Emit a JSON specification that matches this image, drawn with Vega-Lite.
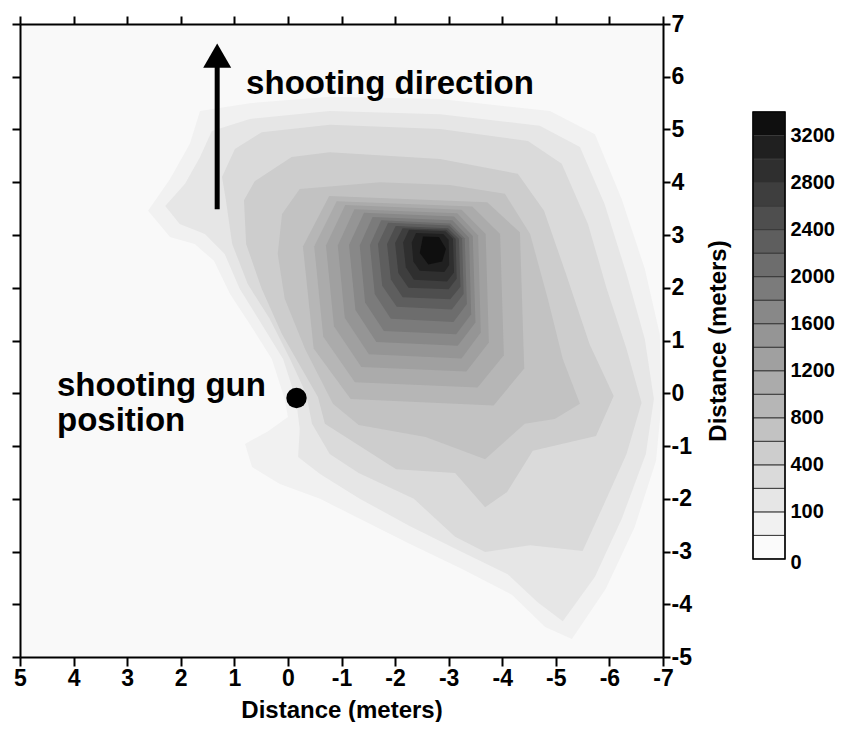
{
  "$schema": "https://vega.github.io/schema/vega-lite/v6.json",
  "background": "white",
  "padding": {"left": 11, "top": 13, "right": 0, "bottom": 0},
  "bounds": "flush",
  "spacing": 90,
  "config": {
    "font": "Liberation Sans",
    "axis": {
      "labelFont": "Liberation Sans",
      "titleFont": "Liberation Sans",
      "labelColor": "black",
      "titleColor": "black",
      "domainColor": "black",
      "tickColor": "black",
      "labelFontWeight": "bold",
      "titleFontWeight": "bold",
      "grid": false
    },
    "text": {"font": "Liberation Sans"}
  },
  "datasets": {
    "contours": [
      {"lo": 50, "i": 1, "x": 2.61, "y": 3.46}, {"lo": 50, "i": 2, "x": 2.20, "y": 4.06}, {"lo": 50, "i": 3, "x": 1.83, "y": 4.73},
      {"lo": 50, "i": 4, "x": 1.64, "y": 5.35}, {"lo": 50, "i": 5, "x": 0.71, "y": 5.50}, {"lo": 50, "i": 6, "x": -0.78, "y": 5.62},
      {"lo": 50, "i": 7, "x": -2.84, "y": 5.58}, {"lo": 50, "i": 8, "x": -4.89, "y": 5.35}, {"lo": 50, "i": 9, "x": -5.73, "y": 4.91},
      {"lo": 50, "i": 10, "x": -6.23, "y": 3.68}, {"lo": 50, "i": 11, "x": -6.66, "y": 2.36}, {"lo": 50, "i": 12, "x": -6.94, "y": 1.12},
      {"lo": 50, "i": 13, "x": -6.98, "y": -0.11}, {"lo": 50, "i": 14, "x": -6.87, "y": -1.28}, {"lo": 50, "i": 15, "x": -6.47, "y": -2.54},
      {"lo": 50, "i": 16, "x": -5.93, "y": -3.71}, {"lo": 50, "i": 17, "x": -5.30, "y": -4.66}, {"lo": 50, "i": 18, "x": -4.80, "y": -4.43},
      {"lo": 50, "i": 19, "x": -4.18, "y": -3.82}, {"lo": 50, "i": 20, "x": -3.25, "y": -3.33}, {"lo": 50, "i": 21, "x": -2.28, "y": -2.86},
      {"lo": 50, "i": 22, "x": -1.34, "y": -2.38}, {"lo": 50, "i": 23, "x": -0.60, "y": -2.00}, {"lo": 50, "i": 24, "x": 0.15, "y": -1.72},
      {"lo": 50, "i": 25, "x": 0.67, "y": -1.40}, {"lo": 50, "i": 26, "x": 0.80, "y": -0.96}, {"lo": 50, "i": 27, "x": 0.37, "y": -0.72},
      {"lo": 50, "i": 28, "x": 0.00, "y": -0.45}, {"lo": 50, "i": 29, "x": 0.06, "y": -0.11}, {"lo": 50, "i": 30, "x": 0.30, "y": 0.65},
      {"lo": 50, "i": 31, "x": 0.71, "y": 1.31}, {"lo": 50, "i": 32, "x": 1.08, "y": 1.88}, {"lo": 50, "i": 33, "x": 1.38, "y": 2.51},
      {"lo": 50, "i": 34, "x": 1.74, "y": 2.83}, {"lo": 50, "i": 35, "x": 2.20, "y": 2.96},

      {"lo": 100, "i": 1, "x": 2.29, "y": 3.55}, {"lo": 100, "i": 2, "x": 1.92, "y": 3.97}, {"lo": 100, "i": 3, "x": 1.64, "y": 4.48},
      {"lo": 100, "i": 4, "x": 1.42, "y": 4.97}, {"lo": 100, "i": 5, "x": 0.71, "y": 5.20}, {"lo": 100, "i": 6, "x": -0.78, "y": 5.35},
      {"lo": 100, "i": 7, "x": -2.84, "y": 5.29}, {"lo": 100, "i": 8, "x": -4.70, "y": 5.07}, {"lo": 100, "i": 9, "x": -5.45, "y": 4.67},
      {"lo": 100, "i": 10, "x": -5.91, "y": 3.59}, {"lo": 100, "i": 11, "x": -6.32, "y": 2.26}, {"lo": 100, "i": 12, "x": -6.66, "y": 1.03},
      {"lo": 100, "i": 13, "x": -6.83, "y": -0.11}, {"lo": 100, "i": 14, "x": -6.68, "y": -1.15}, {"lo": 100, "i": 15, "x": -6.23, "y": -2.38},
      {"lo": 100, "i": 16, "x": -5.73, "y": -3.48}, {"lo": 100, "i": 17, "x": -5.13, "y": -4.32}, {"lo": 100, "i": 18, "x": -4.66, "y": -3.96},
      {"lo": 100, "i": 19, "x": -4.10, "y": -3.43}, {"lo": 100, "i": 20, "x": -3.21, "y": -2.99}, {"lo": 100, "i": 21, "x": -2.28, "y": -2.52},
      {"lo": 100, "i": 22, "x": -1.34, "y": -2.00}, {"lo": 100, "i": 23, "x": -0.60, "y": -1.53}, {"lo": 100, "i": 24, "x": -0.19, "y": -1.21},
      {"lo": 100, "i": 25, "x": -0.22, "y": -0.68}, {"lo": 100, "i": 26, "x": -0.15, "y": -0.11}, {"lo": 100, "i": 27, "x": 0.09, "y": 0.65},
      {"lo": 100, "i": 28, "x": 0.49, "y": 1.31}, {"lo": 100, "i": 29, "x": 0.90, "y": 1.98}, {"lo": 100, "i": 30, "x": 1.18, "y": 2.64},
      {"lo": 100, "i": 31, "x": 1.55, "y": 3.02}, {"lo": 100, "i": 32, "x": 2.02, "y": 3.21},

      {"lo": 200, "i": 1, "x": 1.16, "y": 3.68}, {"lo": 200, "i": 2, "x": 1.23, "y": 4.10}, {"lo": 200, "i": 3, "x": 0.99, "y": 4.63},
      {"lo": 200, "i": 4, "x": 0.49, "y": 4.95}, {"lo": 200, "i": 5, "x": -0.78, "y": 5.09}, {"lo": 200, "i": 6, "x": -2.84, "y": 5.01},
      {"lo": 200, "i": 7, "x": -4.48, "y": 4.78}, {"lo": 200, "i": 8, "x": -5.11, "y": 4.35}, {"lo": 200, "i": 9, "x": -5.60, "y": 3.21},
      {"lo": 200, "i": 10, "x": -5.95, "y": 1.98}, {"lo": 200, "i": 11, "x": -6.32, "y": 0.84}, {"lo": 200, "i": 12, "x": -6.60, "y": -0.18},
      {"lo": 200, "i": 13, "x": -6.32, "y": -1.15}, {"lo": 200, "i": 14, "x": -5.86, "y": -2.19}, {"lo": 200, "i": 15, "x": -5.50, "y": -2.99},
      {"lo": 200, "i": 16, "x": -4.52, "y": -2.88}, {"lo": 200, "i": 17, "x": -3.68, "y": -3.01}, {"lo": 200, "i": 18, "x": -3.12, "y": -2.72},
      {"lo": 200, "i": 19, "x": -2.35, "y": -2.00}, {"lo": 200, "i": 20, "x": -1.32, "y": -1.51}, {"lo": 200, "i": 21, "x": -0.78, "y": -1.15},
      {"lo": 200, "i": 22, "x": -0.45, "y": -0.58}, {"lo": 200, "i": 23, "x": -0.34, "y": -0.01}, {"lo": 200, "i": 24, "x": -0.04, "y": 0.65},
      {"lo": 200, "i": 25, "x": 0.34, "y": 1.41}, {"lo": 200, "i": 26, "x": 0.75, "y": 2.07}, {"lo": 200, "i": 27, "x": 1.04, "y": 2.83},

      {"lo": 400, "i": 1, "x": 0.82, "y": 3.66}, {"lo": 400, "i": 2, "x": 0.62, "y": 4.02}, {"lo": 400, "i": 3, "x": -0.07, "y": 4.48},
      {"lo": 400, "i": 4, "x": -0.78, "y": 4.57}, {"lo": 400, "i": 5, "x": -2.84, "y": 4.44}, {"lo": 400, "i": 6, "x": -4.29, "y": 4.16},
      {"lo": 400, "i": 7, "x": -4.78, "y": 3.46}, {"lo": 400, "i": 8, "x": -5.19, "y": 2.26}, {"lo": 400, "i": 9, "x": -5.63, "y": 0.93},
      {"lo": 400, "i": 10, "x": -6.08, "y": -0.05}, {"lo": 400, "i": 11, "x": -5.75, "y": -0.81}, {"lo": 400, "i": 12, "x": -4.57, "y": -1.09},
      {"lo": 400, "i": 13, "x": -4.09, "y": -1.87}, {"lo": 400, "i": 14, "x": -3.68, "y": -2.16}, {"lo": 400, "i": 15, "x": -3.12, "y": -1.51},
      {"lo": 400, "i": 16, "x": -2.02, "y": -1.44}, {"lo": 400, "i": 17, "x": -0.69, "y": -0.58}, {"lo": 400, "i": 18, "x": -0.56, "y": -0.07},
      {"lo": 400, "i": 19, "x": 0.11, "y": 1.12}, {"lo": 400, "i": 20, "x": 0.49, "y": 1.98}, {"lo": 400, "i": 21, "x": 0.78, "y": 2.83},

      {"lo": 600, "i": 1, "x": 0.11, "y": 3.40}, {"lo": 600, "i": 2, "x": -0.22, "y": 3.87}, {"lo": 600, "i": 3, "x": -1.72, "y": 4.00},
      {"lo": 600, "i": 4, "x": -3.02, "y": 3.95}, {"lo": 600, "i": 5, "x": -4.05, "y": 3.78}, {"lo": 600, "i": 6, "x": -4.52, "y": 3.02},
      {"lo": 600, "i": 7, "x": -4.85, "y": 1.79}, {"lo": 600, "i": 8, "x": -5.13, "y": 0.65}, {"lo": 600, "i": 9, "x": -5.45, "y": -0.20},
      {"lo": 600, "i": 10, "x": -4.98, "y": -0.49}, {"lo": 600, "i": 11, "x": -4.42, "y": -0.58}, {"lo": 600, "i": 12, "x": -3.68, "y": -1.25},
      {"lo": 600, "i": 13, "x": -2.57, "y": -0.83}, {"lo": 600, "i": 14, "x": -1.32, "y": -0.60}, {"lo": 600, "i": 15, "x": -0.84, "y": -0.20},
      {"lo": 600, "i": 16, "x": -0.32, "y": 0.84}, {"lo": 600, "i": 17, "x": 0.06, "y": 1.79}, {"lo": 600, "i": 18, "x": 0.19, "y": 2.64},

      {"lo": 800, "i": 1, "x": -0.77, "y": 3.74}, {"lo": 800, "i": 2, "x": -3.72, "y": 3.62}, {"lo": 800, "i": 3, "x": -4.33, "y": 3.05},
      {"lo": 800, "i": 4, "x": -4.41, "y": 0.47}, {"lo": 800, "i": 5, "x": -3.84, "y": -0.23}, {"lo": 800, "i": 6, "x": -1.17, "y": -0.11},
      {"lo": 800, "i": 7, "x": -0.48, "y": 0.85}, {"lo": 800, "i": 8, "x": -0.28, "y": 2.78},

      {"lo": 1000, "i": 1, "x": -0.91, "y": 3.64}, {"lo": 1000, "i": 2, "x": -3.44, "y": 3.54}, {"lo": 1000, "i": 3, "x": -3.96, "y": 3.02},
      {"lo": 1000, "i": 4, "x": -4.03, "y": 0.72}, {"lo": 1000, "i": 5, "x": -3.54, "y": 0.11}, {"lo": 1000, "i": 6, "x": -1.25, "y": 0.21},
      {"lo": 1000, "i": 7, "x": -0.66, "y": 1.07}, {"lo": 1000, "i": 8, "x": -0.49, "y": 2.78},

      {"lo": 1200, "i": 1, "x": -1.07, "y": 3.57}, {"lo": 1200, "i": 2, "x": -3.24, "y": 3.48}, {"lo": 1200, "i": 3, "x": -3.69, "y": 3.02},
      {"lo": 1200, "i": 4, "x": -3.75, "y": 0.96}, {"lo": 1200, "i": 5, "x": -3.33, "y": 0.41}, {"lo": 1200, "i": 6, "x": -1.37, "y": 0.50},
      {"lo": 1200, "i": 7, "x": -0.86, "y": 1.27}, {"lo": 1200, "i": 8, "x": -0.71, "y": 2.80},

      {"lo": 1400, "i": 1, "x": -1.24, "y": 3.49}, {"lo": 1400, "i": 2, "x": -3.16, "y": 3.41}, {"lo": 1400, "i": 3, "x": -3.55, "y": 2.99},
      {"lo": 1400, "i": 4, "x": -3.60, "y": 1.15}, {"lo": 1400, "i": 5, "x": -3.24, "y": 0.66}, {"lo": 1400, "i": 6, "x": -1.51, "y": 0.74},
      {"lo": 1400, "i": 7, "x": -1.06, "y": 1.43}, {"lo": 1400, "i": 8, "x": -0.93, "y": 2.80},

      {"lo": 1600, "i": 1, "x": -1.42, "y": 3.42}, {"lo": 1600, "i": 2, "x": -3.10, "y": 3.35}, {"lo": 1600, "i": 3, "x": -3.45, "y": 2.98},
      {"lo": 1600, "i": 4, "x": -3.50, "y": 1.34}, {"lo": 1600, "i": 5, "x": -3.17, "y": 0.90}, {"lo": 1600, "i": 6, "x": -1.65, "y": 0.97},
      {"lo": 1600, "i": 7, "x": -1.26, "y": 1.58}, {"lo": 1600, "i": 8, "x": -1.14, "y": 2.81},

      {"lo": 1800, "i": 1, "x": -1.58, "y": 3.34}, {"lo": 1800, "i": 2, "x": -3.07, "y": 3.28}, {"lo": 1800, "i": 3, "x": -3.38, "y": 2.95},
      {"lo": 1800, "i": 4, "x": -3.42, "y": 1.50}, {"lo": 1800, "i": 5, "x": -3.14, "y": 1.12}, {"lo": 1800, "i": 6, "x": -1.79, "y": 1.18},
      {"lo": 1800, "i": 7, "x": -1.44, "y": 1.72}, {"lo": 1800, "i": 8, "x": -1.34, "y": 2.80},

      {"lo": 2000, "i": 1, "x": -1.74, "y": 3.28}, {"lo": 2000, "i": 2, "x": -3.03, "y": 3.22}, {"lo": 2000, "i": 3, "x": -3.30, "y": 2.94},
      {"lo": 2000, "i": 4, "x": -3.34, "y": 1.69}, {"lo": 2000, "i": 5, "x": -3.09, "y": 1.35}, {"lo": 2000, "i": 6, "x": -1.92, "y": 1.41},
      {"lo": 2000, "i": 7, "x": -1.62, "y": 1.88}, {"lo": 2000, "i": 8, "x": -1.53, "y": 2.81},

      {"lo": 2200, "i": 1, "x": -1.87, "y": 3.23}, {"lo": 2200, "i": 2, "x": -3.01, "y": 3.18}, {"lo": 2200, "i": 3, "x": -3.25, "y": 2.94},
      {"lo": 2200, "i": 4, "x": -3.28, "y": 1.88}, {"lo": 2200, "i": 5, "x": -3.06, "y": 1.59}, {"lo": 2200, "i": 6, "x": -2.03, "y": 1.64},
      {"lo": 2200, "i": 7, "x": -1.76, "y": 2.04}, {"lo": 2200, "i": 8, "x": -1.68, "y": 2.83},

      {"lo": 2400, "i": 1, "x": -2.01, "y": 3.17}, {"lo": 2400, "i": 2, "x": -2.99, "y": 3.13}, {"lo": 2400, "i": 3, "x": -3.19, "y": 2.93},
      {"lo": 2400, "i": 4, "x": -3.22, "y": 2.02}, {"lo": 2400, "i": 5, "x": -3.03, "y": 1.78}, {"lo": 2400, "i": 6, "x": -2.14, "y": 1.82},
      {"lo": 2400, "i": 7, "x": -1.92, "y": 2.16}, {"lo": 2400, "i": 8, "x": -1.85, "y": 2.83},

      {"lo": 2600, "i": 1, "x": -2.14, "y": 3.13}, {"lo": 2600, "i": 2, "x": -2.96, "y": 3.10}, {"lo": 2600, "i": 3, "x": -3.13, "y": 2.93},
      {"lo": 2600, "i": 4, "x": -3.15, "y": 2.17}, {"lo": 2600, "i": 5, "x": -3.00, "y": 1.97}, {"lo": 2600, "i": 6, "x": -2.25, "y": 2.00},
      {"lo": 2600, "i": 7, "x": -2.06, "y": 2.28}, {"lo": 2600, "i": 8, "x": -2.00, "y": 2.85},

      {"lo": 2800, "i": 1, "x": -2.26, "y": 3.10}, {"lo": 2800, "i": 2, "x": -2.94, "y": 3.07}, {"lo": 2800, "i": 3, "x": -3.08, "y": 2.93},
      {"lo": 2800, "i": 4, "x": -3.10, "y": 2.29}, {"lo": 2800, "i": 5, "x": -2.97, "y": 2.12}, {"lo": 2800, "i": 6, "x": -2.35, "y": 2.15},
      {"lo": 2800, "i": 7, "x": -2.20, "y": 2.39}, {"lo": 2800, "i": 8, "x": -2.15, "y": 2.86},

      {"lo": 3000, "i": 1, "x": -2.39, "y": 3.04}, {"lo": 3000, "i": 2, "x": -2.90, "y": 3.02}, {"lo": 3000, "i": 3, "x": -3.00, "y": 2.91},
      {"lo": 3000, "i": 4, "x": -3.01, "y": 2.43}, {"lo": 3000, "i": 5, "x": -2.92, "y": 2.30}, {"lo": 3000, "i": 6, "x": -2.46, "y": 2.32},
      {"lo": 3000, "i": 7, "x": -2.34, "y": 2.50}, {"lo": 3000, "i": 8, "x": -2.31, "y": 2.86},

      {"lo": 3200, "i": 1, "x": -2.52, "y": 2.97}, {"lo": 3200, "i": 2, "x": -2.82, "y": 2.96}, {"lo": 3200, "i": 3, "x": -2.95, "y": 2.74},
      {"lo": 3200, "i": 4, "x": -2.88, "y": 2.50}, {"lo": 3200, "i": 5, "x": -2.62, "y": 2.44}, {"lo": 3200, "i": 6, "x": -2.46, "y": 2.66}
    ],
    "bands": [
      {"lo": 0, "b0": 0, "b1": 1}, {"lo": 50, "b0": 1, "b1": 2}, {"lo": 100, "b0": 2, "b1": 3}, {"lo": 200, "b0": 3, "b1": 4},
      {"lo": 400, "b0": 4, "b1": 5}, {"lo": 600, "b0": 5, "b1": 6}, {"lo": 800, "b0": 6, "b1": 7}, {"lo": 1000, "b0": 7, "b1": 8},
      {"lo": 1200, "b0": 8, "b1": 9}, {"lo": 1400, "b0": 9, "b1": 10}, {"lo": 1600, "b0": 10, "b1": 11}, {"lo": 1800, "b0": 11, "b1": 12},
      {"lo": 2000, "b0": 12, "b1": 13}, {"lo": 2200, "b0": 13, "b1": 14}, {"lo": 2400, "b0": 14, "b1": 15}, {"lo": 2600, "b0": 15, "b1": 16},
      {"lo": 2800, "b0": 16, "b1": 17}, {"lo": 3000, "b0": 17, "b1": 18}, {"lo": 3200, "b0": 18, "b1": 19}
    ],
    "arrow": [{"x": 1.32, "tail": 3.49, "head": 6.40}],
    "gun": [{"x": -0.16, "y": -0.09}],
    "notes": [
      {"text": "shooting direction", "x": 0.78, "y": 5.67},
      {"text": "shooting gun", "x": 4.31, "y": -0.05},
      {"text": "position", "x": 4.31, "y": -0.72}
    ]
  },
  "hconcat": [
    {
      "width": 643,
      "height": 633,
      "view": {"fill": "#f9f9f9", "stroke": null},
      "resolve": {"axis": {"x": "independent", "y": "independent"}},
      "layer": [
        {
          "data": {"name": "contours"},
          "mark": {"type": "line", "interpolate": "linear-closed", "filled": true, "strokeWidth": 0},
          "encoding": {
            "x": {
              "field": "x", "type": "quantitative",
              "scale": {"domain": [-7, 5], "reverse": true, "nice": false, "zero": false},
              "axis": {
                "orient": "bottom", "values": [5, 4, 3, 2, 1, 0, -1, -2, -3, -4, -5, -6, -7],
                "labelExpr": "'' + datum.value", "labelFontSize": 23, "labelPadding": 1, "labelFlush": false,
                "labelOverlap": false, "tickSize": 9, "tickWidth": 2, "domainWidth": 2,
                "title": "Distance (meters)", "titleFontSize": 24, "titlePadding": 8
              }
            },
            "y": {
              "field": "y", "type": "quantitative",
              "scale": {"domain": [-5, 7], "nice": false, "zero": false},
              "axis": {
                "orient": "right", "values": [7, 6, 5, 4, 3, 2, 1, 0, -1, -2, -3, -4, -5],
                "labelExpr": "'' + datum.value", "labelFontSize": 23, "labelPadding": 1, "labelFlush": false,
                "labelOverlap": false, "tickSize": 7, "tickWidth": 2, "domainWidth": 2,
                "title": "Distance (meters)", "titleFontSize": 24, "titleAngle": 270, "titleBaseline": "top", "titlePadding": 15
              }
            },
            "order": {"field": "i", "type": "quantitative"},
            "detail": {"field": "lo"},
            "color": {
              "field": "lo", "type": "ordinal",
              "scale": {
                "domain": [0, 50, 100, 200, 400, 600, 800, 1000, 1200, 1400, 1600, 1800, 2000, 2200, 2400, 2600, 2800, 3000, 3200],
                "range": ["#fbfbfb", "#f1f1f1", "#e6e6e6", "#dadada", "#cdcdcd", "#c2c2c2", "#b6b6b6", "#ababab", "#a0a0a0", "#959595", "#888888", "#7b7b7b", "#6d6d6d", "#5e5e5e", "#4e4e4e", "#3e3e3e", "#2f2f2f", "#202020", "#0f0f0f"]
              },
              "legend": null
            }
          }
        },
        {
          "data": {"name": "gun"},
          "mark": {"type": "point", "shape": "circle", "filled": true, "color": "black", "opacity": 1, "size": 415},
          "encoding": {
            "x": {
              "field": "x", "type": "quantitative",
              "axis": {"orient": "top", "values": [5, 4, 3, 2, 1, 0, -1, -2, -3, -4, -5, -6, -7], "labels": false,
                       "tickSize": 8, "tickWidth": 2, "domainWidth": 2, "title": null}
            },
            "y": {
              "field": "y", "type": "quantitative",
              "axis": {"orient": "left", "values": [7, 6, 5, 4, 3, 2, 1, 0, -1, -2, -3, -4, -5], "labels": false,
                       "tickSize": 8, "tickWidth": 2, "domainWidth": 2, "title": null}
            }
          }
        },
        {
          "data": {"name": "arrow"},
          "mark": {"type": "rule", "color": "black", "strokeWidth": 5},
          "encoding": {
            "x": {"field": "x", "type": "quantitative", "axis": null},
            "y": {"field": "tail", "type": "quantitative", "axis": null},
            "y2": {"field": "head"}
          }
        },
        {
          "data": {"name": "arrow"},
          "mark": {"type": "point", "shape": "triangle-up", "filled": true, "color": "black", "opacity": 1, "size": 784},
          "encoding": {
            "x": {"field": "x", "type": "quantitative", "axis": null},
            "y": {"field": "head", "type": "quantitative", "axis": null}
          }
        },
        {
          "data": {"name": "notes"},
          "mark": {"type": "text", "align": "left", "baseline": "alphabetic", "fontSize": 33, "fontWeight": "bold", "color": "black"},
          "encoding": {
            "x": {"field": "x", "type": "quantitative", "axis": null},
            "y": {"field": "y", "type": "quantitative", "axis": null},
            "text": {"field": "text"}
          }
        }
      ]
    },
    {
      "width": 32,
      "height": 633,
      "view": {"stroke": null},
      "data": {"name": "bands"},
      "layer": [
        {
          "mark": {"type": "rect", "stroke": "#3a3a3a", "strokeWidth": 1},
          "encoding": {
            "y": {
              "field": "b0", "type": "quantitative",
              "scale": {"domain": [-4.17, 22.74], "nice": false, "zero": false},
              "axis": {
                "orient": "right", "values": [0, 2, 4, 6, 8, 10, 12, 14, 16, 18],
                "labelExpr": "['0', '100', '400', '800', '1200', '1600', '2000', '2400', '2800', '3200'][datum.value / 2]",
                "domain": false, "ticks": false, "labelPadding": 5, "labelFontSize": 20,
                "labelBaseline": "middle", "labelFlush": false, "labelOverlap": false,
                "labelOffset": {"condition": {"test": "datum.value == 0", "value": 4}, "value": 0},
                "title": null
              }
            },
            "y2": {"field": "b1"},
            "color": {
              "field": "lo", "type": "ordinal",
              "scale": {
                "domain": [0, 50, 100, 200, 400, 600, 800, 1000, 1200, 1400, 1600, 1800, 2000, 2200, 2400, 2600, 2800, 3000, 3200],
                "range": ["#fbfbfb", "#f1f1f1", "#e6e6e6", "#dadada", "#cdcdcd", "#c2c2c2", "#b6b6b6", "#ababab", "#a0a0a0", "#959595", "#888888", "#7b7b7b", "#6d6d6d", "#5e5e5e", "#4e4e4e", "#3e3e3e", "#2f2f2f", "#202020", "#0f0f0f"]
              },
              "legend": null
            }
          }
        },
        {
          "transform": [
            {"aggregate": [{"op": "min", "field": "b0", "as": "b0"}, {"op": "max", "field": "b1", "as": "b1"}]}
          ],
          "mark": {"type": "rect", "fill": null, "fillOpacity": 0, "stroke": "black", "strokeWidth": 1.5},
          "encoding": {
            "y": {"field": "b0", "type": "quantitative"},
            "y2": {"field": "b1"}
          }
        }
      ]
    }
  ]
}
